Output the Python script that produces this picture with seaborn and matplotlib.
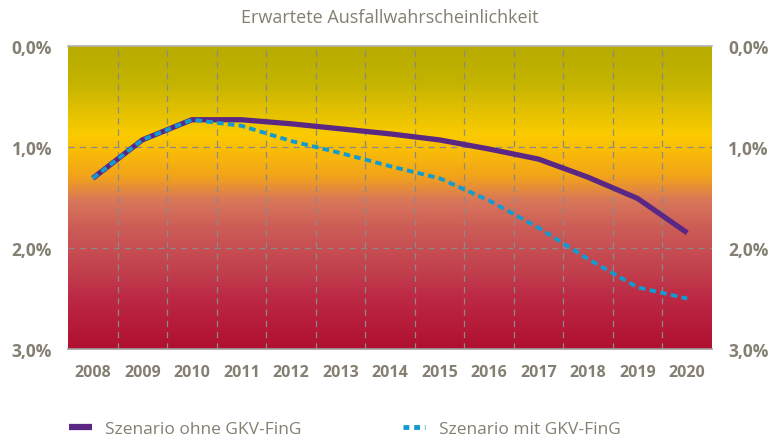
import numpy as np
import pandas as pd
import matplotlib.pyplot as plt
import seaborn as sns
from matplotlib.colors import LinearSegmentedColormap
from matplotlib.lines import Line2D

sns.set_style("white")
plt.rcParams['font.family'] = ['Open Sans', 'DejaVu Sans']

# data
years = ["2008", "2009", "2010", "2011", "2012", "2013", "2014",
         "2015", "2016", "2017", "2018", "2019", "2020"]
ohne = [1.31, 0.93, 0.73, 0.73, 0.77, 0.82, 0.87, 0.93, 1.02, 1.12, 1.30, 1.51, 1.85]
mit = [1.31, 0.93, 0.73, 0.79, 0.94, 1.06, 1.19, 1.31, 1.53, 1.80, 2.11, 2.39, 2.50]
yticks = [0.0, 1.0, 2.0, 3.0]
ylabels = ["0,0%", "1,0%", "2,0%", "3,0%"]

txt = "#857f72"
purple = "#5a2784"
cyan = "#139bd0"

df = pd.DataFrame({"pos": np.arange(len(years)), "ohne": ohne, "mit": mit})

fig = plt.figure(figsize=(7.73, 4.39), dpi=100)
ax = fig.add_axes([68/773, 1-350/439, (712-68)/773, (350-47)/439])

# background gradient (top = 0 %, bottom = 3 %)
stops = [(0.0, "#b8ac00"), (0.12, "#c4b400"), (0.29, "#fbcb00"), (0.36, "#f8b80a"),
         (0.43, "#f2a31a"), (0.51, "#d8765a"), (0.61, "#cb5a56"), (0.75, "#c13f4c"),
         (0.83, "#bd2945"), (1.0, "#b01030")]
cmap = LinearSegmentedColormap.from_list("bg", stops)
grad = np.linspace(0, 1, 300).reshape(-1, 1)
ax.imshow(grad, cmap=cmap, aspect="auto", extent=(-0.5, 12.5, 3.0, 0.0),
          zorder=0, interpolation="bilinear")

sns.lineplot(data=df, x="pos", y="ohne", ax=ax, color=purple, lw=3.8,
             solid_capstyle="butt", zorder=3)
sns.lineplot(data=df, x="pos", y="mit", ax=ax, color=cyan, lw=2.8,
             dashes=False, zorder=4)
ax.lines[-1].set_dashes((1.7, 1.1))

ax.set_xlim(-0.5, 12.5)
ax.set_ylim(3.0, 0.0)
ax.set_xlabel("")
ax.set_ylabel("")

ax.set_xticks(np.arange(len(years)))
ax.set_xticklabels(years)
ax.set_xticks(np.arange(-0.5, 13, 1), minor=True)
ax.tick_params(axis="x", which="major", length=0, pad=11, labelsize=11.5,
               labelcolor=txt)
ax.tick_params(axis="x", which="minor", length=15, width=1, color="#999999",
               direction="out")
ax.set_yticks(yticks)
ax.set_yticklabels(ylabels)
ax.tick_params(axis="y", length=0, labelsize=12.5, labelcolor=txt, pad=11.5,
               labelleft=True, labelright=True)
for t in ax.get_yticklabels():
    t.set_fontweight("bold")
for t in ax.get_xticklabels():
    t.set_fontweight("bold")

ax.grid(False)
for xv in np.arange(0.5, 12, 1):
    ax.axvline(xv, color="#8a8a8a", lw=0.9, ls=(0, (5, 4)), zorder=1)
for yv in [1.0, 2.0]:
    ax.axhline(yv, color="#8a8a8a", lw=0.9, ls=(0, (5, 4)), zorder=1)

for s in ["left", "right"]:
    ax.spines[s].set_visible(False)
ax.spines["top"].set_color("#b0b0b0")
ax.spines["top"].set_linewidth(1.2)
ax.spines["bottom"].set_color("#a0a0a0")
ax.spines["bottom"].set_linewidth(1.2)

fig.text(390/773, 1-18/439, "Erwartete Ausfallwahrscheinlichkeit", ha="center",
         va="center", color=txt, fontsize=13)

handles = [Line2D([], [], color=purple, lw=4.5, solid_capstyle="butt"),
           Line2D([], [], color=cyan, lw=3.5, dashes=(1.2, 1.0))]
leg = fig.legend(handles, ["Szenario ohne GKV-FinG", "Szenario mit GKV-FinG"],
                 loc="center left", bbox_to_anchor=(69/773, 1-430/439), ncol=2,
                 frameon=False, fontsize=12.5, handlelength=1.3, handletextpad=0.8,
                 columnspacing=5.8, labelcolor=txt, borderpad=0, borderaxespad=0)

fig.savefig("out.png", dpi=100, facecolor="white")
